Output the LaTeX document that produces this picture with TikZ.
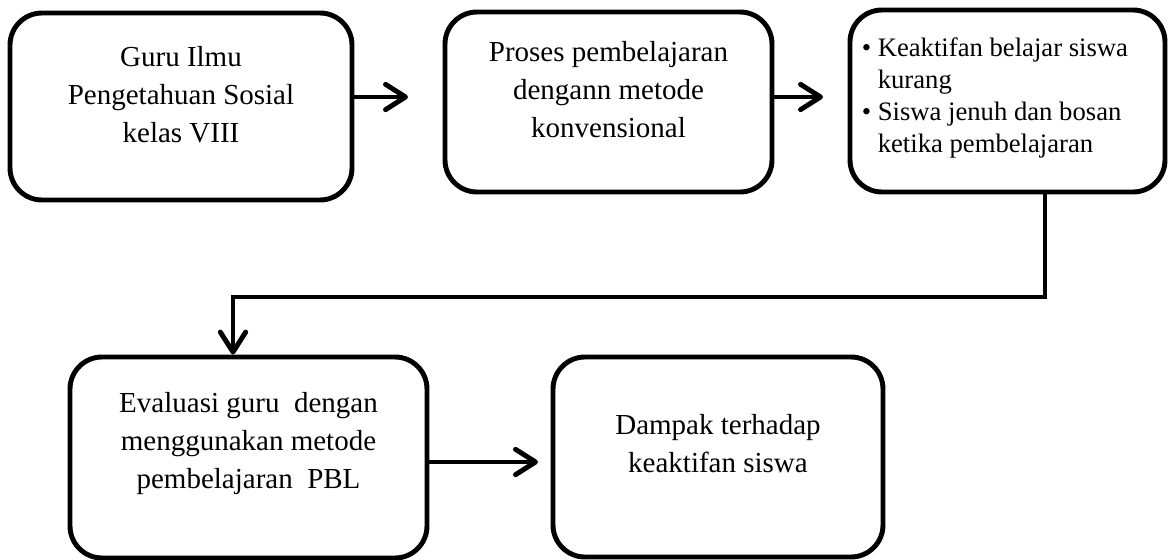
\documentclass[tikz,border=0pt]{standalone}
\usepackage{fontspec}
\setmainfont{Liberation Serif}
\usetikzlibrary{arrows.meta,calc}
\begin{document}
\begin{tikzpicture}
[x=0.75pt,y=-0.75pt,
 boxdecorate/.style={shape=rectangle,draw,line width=3.7pt,rounded corners=24pt,inner sep=0pt},%
 textdecorate/.style={align=center,font=\fontsize{21.75}{28.5}\selectfont,inner sep=0pt},%
 listdecorate/.style={align=left,font=\fontsize{20}{24}\selectfont,inner sep=0pt},%
 linedecorate/.style={-{Straight Barb[round,length=15pt,width=19pt]},line width=3.7pt}]
\useasboundingbox (0,0) rectangle (1168,560);
%% boxes
\foreach \nodename/\x/\y/\w/\h in {
  b1/181/106.5/342/187, b2/608.5/102/327/180, b3/1007.5/101/315/182,
  b4/248.5/457.5/357/201, b5/718/457/330/200}
{
  \node (\nodename) at (\x,\y) [boxdecorate,minimum width=\w*0.75pt,minimum height=\h*0.75pt] {};
}
%% texts
\node (t1) at ($(b1.center)+(0,-12)$) [textdecorate] {Guru Ilmu\\Pengetahuan Sosial\\kelas VIII};
\node (t2) at ($(b2.center)+(0,-12)$) [textdecorate] {Proses pembelajaran\\dengann metode\\konvensional};
\node (t3) at ($(b3.west)+(30,-3.5)$) [listdecorate,anchor=west]
  {\llap{\textbullet\hspace{5pt}}Keaktifan belajar siswa\\kurang\\
   \llap{\textbullet\hspace{5pt}}Siswa jenuh dan bosan\\ketika pembelajaran};
\node (t4) at ($(b4.center)+(0,-14)$) [textdecorate] {Evaluasi guru\ \ dengan\\menggunakan metode\\pembelajaran\ \ PBL};
\node (t5) at ($(b5.center)+(0,-13)$) [textdecorate] {Dampak terhadap\\keaktifan siswa};
%% arrows
\coordinate (a1) at (408,97);
\coordinate (a2) at (823,97);
\coordinate (a3) at (538,462);
\coordinate (c1) at (1045,297);
\coordinate (c2) at (233,297);
\draw[linedecorate] (b1.east |- a1) -- (a1);
\draw[linedecorate] (b2.east |- a2) -- (a2);
\draw[linedecorate] (b3.south -| c1) -- (c1) -- (c2) -- (c2 |- b4.north);
\draw[linedecorate] (b4.east |- a3) -- (a3);
\end{tikzpicture}
\end{document}
